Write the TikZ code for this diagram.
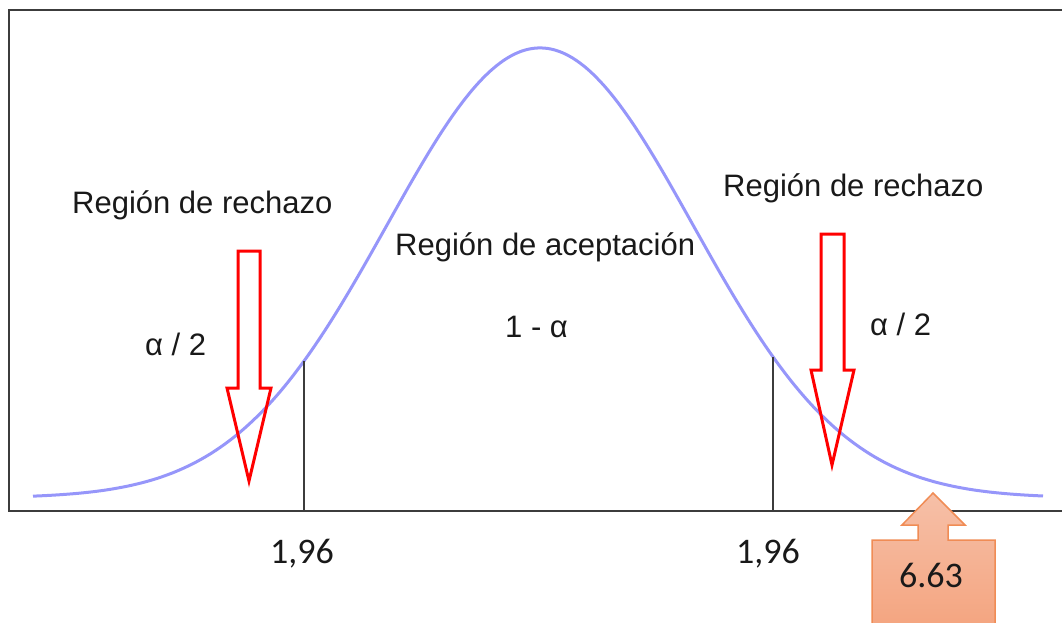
\documentclass[tikz,border=0pt]{standalone}
\usepackage{fontspec}
\setmainfont{Liberation Sans}
\newfontfamily\numfont{Carlito}
\usetikzlibrary{positioning}
\definecolor{curveblue}{RGB}{150,150,250}
\definecolor{framegray}{RGB}{60,60,60}
\definecolor{calloutedge}{RGB}{240,140,85}
\definecolor{callouttop}{RGB}{246,192,168}
\definecolor{calloutbottom}{RGB}{244,162,124}
\tikzset{
  frame/.style={draw=framegray, line width=2.5pt},
  labeltext/.style={anchor=base west, inner sep=0pt, text=black!90,
    font=\fontsize{31}{37}\selectfont},
  valuetext/.style={anchor=base, inner sep=0pt, text=black!90,
    font=\numfont\fontsize{36}{43}\selectfont},
  redarrow/.style={draw=red, line width=3pt, line join=miter},
  declare function={gauss(\t)=498-450*exp(-((\t-540)/153)^2/2);}
}
\begin{document}
\begin{tikzpicture}[x=1pt,y=-1pt]
\clip (0,0) rectangle (1062,623);
% Frame and axis
\draw[frame] (9,10) rectangle (1090,511);
% Normal curve
\draw[curveblue, line width=3pt] plot[domain=33:1043, samples=160, smooth] (\x,{gauss(\x)});
% Critical values
\coordinate (critL) at (304,511);
\coordinate (critR) at (773,511);
\coordinate (topL) at (304,{gauss(304)});
\coordinate (topR) at (773,{gauss(773)});
\draw[frame] (critL) -- (topL);
\draw[frame] (critR) -- (topR);
\node[valuetext] (valL) at (302,563) {1,96};
\node[valuetext] (valR) at (768,563) {1,96};
% Region labels
\node[labeltext] (rejL) at (72,213) {Región de rechazo};
\node[labeltext] (rejR) at (723,196) {Región de rechazo};
\node[labeltext] (acc) at (395,255) {Región de aceptación};
\node[labeltext] (conf) at (505,337) {1 - α};
\node[labeltext] (halfL) at (145,355) {α / 2};
\node[labeltext] (halfR) at (870,335) {α / 2};
% Down arrows
\draw[redarrow] (238,251) -- (260,251) -- (260,388) -- (271,388) -- (249,481)
  -- (227,388) -- (238,388) -- cycle;
\draw[redarrow] (821,234) -- (844,234) -- (844,370) -- (854,370) -- (832,465)
  -- (811,370) -- (821,370) -- cycle;
% Up arrow callout
\draw[draw=calloutedge, line width=1.5pt, top color=callouttop, bottom color=calloutbottom]
  (933,493) -- (965,525) -- (948,525) -- (948,540) -- (995,540) -- (995,640)
  -- (872,640) -- (872,540) -- (918,540) -- (918,525) -- (902,525) -- cycle;
\node[valuetext] (stat) at (931,587) {6.63};
\end{tikzpicture}
\end{document}
